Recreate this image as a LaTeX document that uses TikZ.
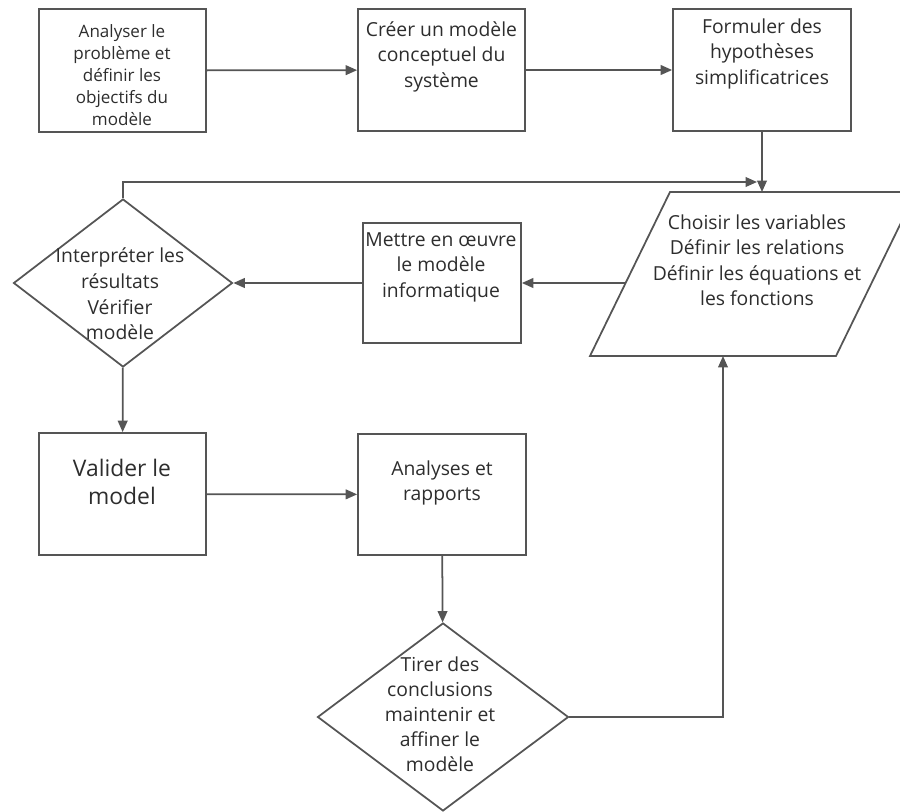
\documentclass[tikz,border=0pt]{standalone}
\usepackage{fontspec}
\setmainfont{Open Sans}
\usetikzlibrary{arrows.meta,shapes.geometric,calc}
\definecolor{edgegray}{RGB}{85,85,85}
\definecolor{textgray}{RGB}{45,45,45}

\begin{document}
\begin{tikzpicture}[x=0.02cm,y=-0.02cm,
  proc/.style={draw=edgegray, line width=1pt, rectangle, inner sep=0pt},
  choice/.style={draw=edgegray, line width=1pt, diamond, inner sep=0pt},
  txt/.style={text=textgray, align=center, inner sep=0pt, font=\fontsize{11}{14.6}\selectfont},
  flow/.style={draw=edgegray, line width=1pt, -{Triangle[length=6.5pt,width=5.5pt]}}]
\useasboundingbox (0,0) rectangle (900,812);
% boites
\node[proc, minimum width=3.34cm, minimum height=2.46cm] (analyse) at (122.5,70.5) {};
\node[proc, minimum width=3.34cm, minimum height=2.44cm] (concevoir) at (441.5,70) {};
\node[proc, minimum width=3.56cm, minimum height=2.44cm] (formuler) at (762,70) {};
\node[proc, minimum width=3.16cm, minimum height=2.4cm] (mettre) at (442,283) {};
\node[choice, minimum width=4.38cm, minimum height=3.36cm] (interpreter) at (123,283) {};
\node[proc, minimum width=3.34cm, minimum height=2.44cm] (valider) at (122.5,494) {};
\node[proc, minimum width=3.36cm, minimum height=2.42cm] (rapports) at (442,494.5) {};
\node[choice, minimum width=5.02cm, minimum height=3.76cm] (conclure) at (443,717) {};
% parallelogramme
\coordinate (choisirTL) at (670,192);
\coordinate (choisirTR) at (916,192);
\coordinate (choisirBR) at (836,356);
\coordinate (choisirBL) at (590,356);
\draw[edgegray, line width=1pt] (choisirTL) -- (choisirTR) -- (choisirBR) -- (choisirBL) -- cycle;
% textes
\node[txt, font=\fontsize{9.7}{12.5}\selectfont, anchor=north] (analyseT) at (122,24) {Analyser le\\problème et\\définir les\\objectifs du\\modèle};
\node[txt, anchor=north] (concevoirT) at (441.5,21) {Créer un modèle\\conceptuel du\\système};
\node[txt, anchor=north] (formulerT) at (762,18) {Formuler des\\hypothèses\\simplificatrices};
\node[txt, anchor=north] (choisirT) at (757,214) {Choisir les variables\\Définir les relations\\Définir les équations et\\les fonctions};
\node[txt, anchor=north] (mettreT) at (441,232) {Mettre en œuvre\\le modèle\\informatique};
\node[txt] (interpreterT) at (120,294) {Interpréter les\\résultats\\Vérifier\\modèle};
\node[txt, font=\fontsize{13}{16}\selectfont, anchor=north] (validerT) at (122,459) {Valider le\\model};
\node[txt, anchor=north] (rapportsT) at (442,460) {Analyses et\\rapports};
\node[txt, font=\fontsize{11}{14.2}\selectfont] (conclureT) at (440,714) {Tirer des\\conclusions\\maintenir et\\affiner le\\modèle};
% fleches
\coordinate (join) at (757,182);
\coordinate (choisirL) at (626,283);
\coordinate (retour) at (723,356);
\draw[flow] (analyse) -- (concevoir);
\draw[flow] (concevoir) -- (formuler);
\draw[flow] (formuler.south) -- (formuler.south |- choisirTL);
\draw[flow] (interpreter.north) |- (join);
\draw[flow] (choisirL) -- (mettre.east);
\draw[flow] (mettre) -- (interpreter);
\draw[flow] (interpreter) -- (valider);
\draw[flow] (valider) -- (rapports);
\draw[flow] (rapports) -- (conclure);
\draw[flow] (conclure.east) -| (retour);
\end{tikzpicture}
\end{document}
